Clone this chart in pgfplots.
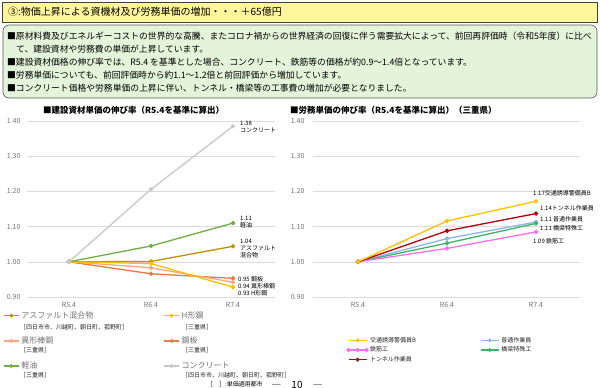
\documentclass[border=0pt]{standalone}
\usepackage{pgfplots}
\pgfplotsset{compat=1.18}
\usepackage{fontspec}
\setmainfont{Noto Sans CJK JP}
\definecolor{cConc}{HTML}{C8C8C8}
\definecolor{cOil}{HTML}{70AD47}
\definecolor{cAsph}{HTML}{BF9000}
\definecolor{cIkei}{HTML}{F4A886}
\definecolor{cKohan}{HTML}{E57A45}
\definecolor{cH}{HTML}{F2C200}
\definecolor{cKotsu}{HTML}{FFC000}
\definecolor{cTun}{HTML}{B00010}
\definecolor{cFutsu}{HTML}{8DB4E2}
\definecolor{cKyo}{HTML}{3BB36B}
\definecolor{cTekkin}{HTML}{F472F0}
\definecolor{hdrYel}{HTML}{FFF59A}
\definecolor{boxGrn}{HTML}{E4F4DA}
\newcommand{\fs}[1]{\fontsize{#1}{#1}\selectfont}
\newcommand{\lgL}[1]{\makebox[140pt][l]{\color{black!55}#1}}
\newcommand{\lgR}[1]{\makebox[108pt][l]{\color{black!85}#1}}
\begin{document}
\begin{tikzpicture}
\useasboundingbox (0,0) rectangle (600pt,-388pt);
\fill[white] (0,0) rectangle (600pt,-388pt);
% header
\draw[draw=black!75, fill=hdrYel, line width=0.6pt] (2.5pt,-2.5pt) rectangle (597pt,-22pt);
\node[anchor=base west, inner sep=0pt, font=\fs{10}] at (8pt,-16pt) {③:物価上昇による資機材及び労務単価の増加・・・＋65億円};
% green box
\draw[draw=black!65, fill=boxGrn, line width=0.6pt, rounded corners=6pt] (3pt,-25pt) rectangle (597pt,-98pt);
\begin{scope}[every node/.style={anchor=base west, inner sep=0pt, font=\fs{8.8}}]
\node at (7pt,-39pt) {■原材料費及びエネルギーコストの世界的な高騰、またコロナ禍からの世界経済の回復に伴う需要拡大によって、前回再評価時（令和5年度）に比べ};
\node at (16pt,-52pt) {て、建設資材や労務費の単価が上昇しています。};
\node at (7pt,-65pt) {■建設資材価格の伸び率では、R5.4 を基準とした場合、コンクリート、鉄筋等の価格が約0.9～1.4倍となっています。};
\node at (7pt,-78pt) {■労務単価についても、前回評価時から約1.1～1.2倍と前回評価から増加しています。};
\node at (7pt,-91pt) {■コンクリート価格や労務単価の上昇に伴い、トンネル・橋梁等の工事費の増加が必要となりました。};
\end{scope}
% chart titles
\node[anchor=base west, inner sep=0pt, font=\fs{8.5}\bfseries] at (43pt,-113pt) {■建設資材単価の伸び率（R5.4を基準に算出）};
\node[anchor=base west, inner sep=0pt, font=\fs{8.5}\bfseries] at (290pt,-113pt) {■労務単価の伸び率（R5.4を基準に算出）（三重県）};
% legend sub-labels (applicable cities)
\begin{scope}[every node/.style={anchor=west, inner sep=0pt, font=\fs{6}, text=black!85}]
\node at (20pt,-327.5pt) {［四日市市、川越町、朝日町、菰野町］};
\node at (20pt,-350pt) {［三重県］};
\node at (20pt,-375pt) {［三重県］};
\node at (182pt,-327.5pt) {［三重県］};
\node at (182pt,-350pt) {［三重県］};
\node at (182pt,-375pt) {［四日市市、川越町、朝日町、菰野町］};
\end{scope}
% bottom texts
\node[anchor=base west, inner sep=0pt, font=\fs{6}] at (207pt,-386pt) {［　］:単価適用都市};
\node[anchor=base, inner sep=0pt, font=\fs{10}] at (297pt,-388pt) {―　10　―};

\pgfplotsset{commonax/.style={
  anchor=south west, scale only axis, height=176pt,
  ymin=0.9, ymax=1.4, ytick={0.9,1.0,1.1,1.2,1.3,1.4},
  xtick={0,1,2}, xticklabels={R5.4,R6.4,R7.4},
  axis line style={draw=none}, major tick length=0pt,
  ymajorgrids, grid style={draw=black!14, line width=0.5pt},
  tick label style={font=\fs{7}, text=black!55},
  yticklabel style={/pgf/number format/fixed, /pgf/number format/fixed zerofill, /pgf/number format/precision=2, /pgf/number format/assume math mode=true},
  xticklabel style={yshift=-2pt},
  clip=false,
  every axis plot/.append style={line width=1.3pt, mark=*, mark size=1.5pt},
  legend cell align=left,
}}
% left chart
\begin{axis}[commonax, at={(27pt,-297pt)}, width=248pt, xmin=-0.512, xmax=2.512,
  yticklabel style={xshift=-3pt},
  legend columns=2,
  legend image code/.code={\draw[#1] plot coordinates {(0pt,0pt) (7.5pt,0pt) (15pt,0pt)};},
  legend style={at={(axis description cs:-0.097,-0.07)}, anchor=north west, draw=none, fill=none,
    inner sep=0pt, row sep=13pt, font=\fs{8}, cells={anchor=west}},
]
\addplot[cAsph, forget plot] coordinates {(0,1.00) (1,1.001) (2,1.044)};
\addplot[cKohan, forget plot] coordinates {(0,1.00) (1,0.966) (2,0.953)};
\addplot[cIkei, forget plot] coordinates {(0,1.00) (1,0.983) (2,0.942)};
\addplot[cH, forget plot] coordinates {(0,1.00) (1,0.995) (2,0.928)};
\addplot[cOil, forget plot] coordinates {(0,1.00) (1,1.045) (2,1.110)};
\addplot[cConc, forget plot] coordinates {(0,1.00) (1,1.206) (2,1.385)};
\addlegendimage{cAsph, line width=1.3pt, mark=*, mark size=1.2pt, mark repeat=2, mark phase=2}
\addlegendentry{\lgL{アスファルト混合物}}
\addlegendimage{cH, line width=1.3pt, mark=*, mark size=1.2pt, mark repeat=2, mark phase=2}
\addlegendentry{\lgL{H形鋼}}
\addlegendimage{cIkei, line width=1.3pt, mark=*, mark size=1.2pt, mark repeat=2, mark phase=2}
\addlegendentry{\lgL{異形棒鋼}}
\addlegendimage{cKohan, line width=1.3pt, mark=*, mark size=1.2pt, mark repeat=2, mark phase=2}
\addlegendentry{\lgL{鋼板}}
\addlegendimage{cOil, line width=1.3pt, mark=*, mark size=1.2pt, mark repeat=2, mark phase=2}
\addlegendentry{\lgL{軽油}}
\addlegendimage{cConc, line width=1.3pt, mark=*, mark size=1.2pt, mark repeat=2, mark phase=2}
\addlegendentry{\lgL{コンクリート}}
\begin{scope}[every node/.style={anchor=west, inner sep=0pt, font=\fs{6}, align=left}]
\node at (axis cs:2.085,1.3844) {1.38\\[1pt]コンクリート};
\node at (axis cs:2.085,1.1116) {1.11\\[1pt]軽油};
\node at (axis cs:2.085,1.039) {1.04\\[1pt]アスファルト\\[1pt]混合物};
\node at (axis cs:2.06,0.951) {0.95 鋼板};
\node at (axis cs:2.06,0.931) {0.94 異形棒鋼};
\node at (axis cs:2.06,0.911) {0.93 H形鋼};
\end{scope}
\end{axis}
% right chart
\begin{axis}[commonax, at={(313pt,-297pt)}, width=267pt, xmin=-0.506, xmax=2.494,
  yticklabel style={xshift=-5pt},
  legend columns=2,
  legend image code/.code={\draw[#1] plot coordinates {(0pt,0pt) (9pt,0pt) (18pt,0pt)};},
  legend style={at={(axis description cs:0.127,-0.225)}, anchor=north west, draw=none, fill=none,
    inner sep=0pt, row sep=2.5pt, font=\fs{6}, cells={anchor=west}, nodes={inner ysep=0.3pt}},
]
\addplot[cFutsu, forget plot] coordinates {(0,1.00) (1,1.066) (2,1.113)};
\addplot[cKyo, forget plot] coordinates {(0,1.00) (1,1.053) (2,1.109)};
\addplot[cTekkin, forget plot] coordinates {(0,1.00) (1,1.038) (2,1.085)};
\addplot[cTun, forget plot] coordinates {(0,1.00) (1,1.088) (2,1.137)};
\addplot[cKotsu, forget plot] coordinates {(0,1.00) (1,1.116) (2,1.172)};
\addlegendimage{cKotsu, line width=1.3pt, mark=*, mark size=1.2pt, mark repeat=2, mark phase=2}
\addlegendentry{\lgR{交通誘導警備員B}}
\addlegendimage{cFutsu, line width=1.3pt, mark=*, mark size=1.2pt, mark repeat=2, mark phase=2}
\addlegendentry{\lgR{普通作業員}}
\addlegendimage{cTekkin, line width=1.3pt}
\addlegendentry{\lgR{鉄筋工}}
\addlegendimage{cKyo, line width=1.3pt, mark=*, mark size=1.2pt, mark repeat=2, mark phase=2}
\addlegendentry{\lgR{橋梁特殊工}}
\addlegendimage{cTun, line width=1.3pt, mark=*, mark size=1.2pt, mark repeat=2, mark phase=2}
\addlegendentry{\lgR{トンネル作業員}}
\begin{scope}[every node/.style={anchor=west, inner sep=0pt, font=\fs{6}}]
\node at (axis cs:1.966,1.1955) {1.17交通誘導警備員B};
\node at (axis cs:2.045,1.1528) {1.14トンネル作業員};
\node at (axis cs:2.045,1.1216) {1.11 普通作業員};
\node at (axis cs:2.045,1.096) {1.11 橋梁特殊工};
\node at (axis cs:1.966,1.059) {1.09 鉄筋工};
\end{scope}
\end{axis}
\end{tikzpicture}
\end{document}
